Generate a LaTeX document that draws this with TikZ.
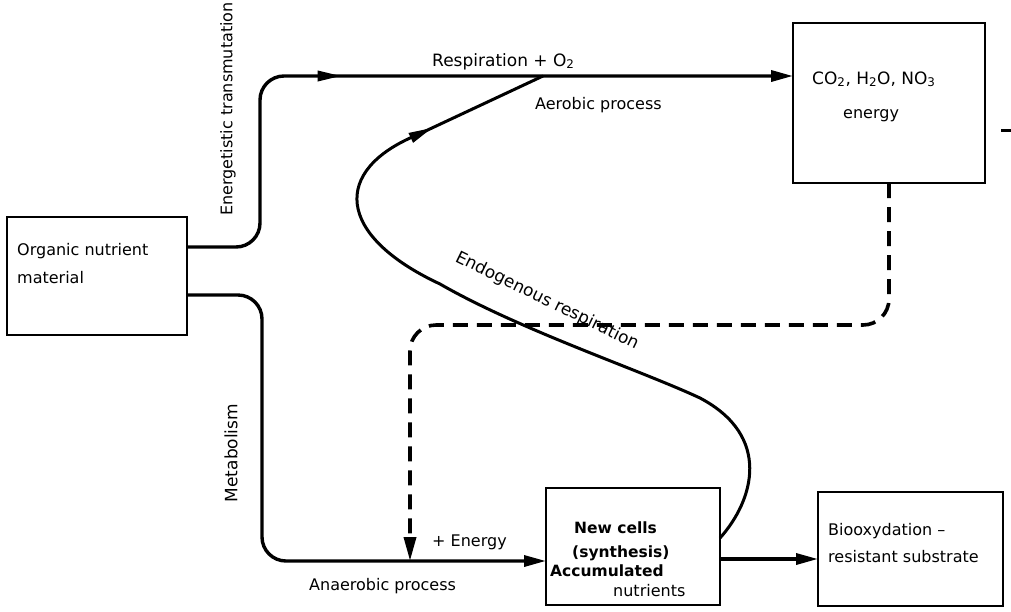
\documentclass[tikz,border=0pt]{standalone}
\usepackage{fontspec}
\setmainfont{DejaVu Sans}
\usetikzlibrary{arrows.meta,decorations.markings,calc}
\begin{document}
\begin{tikzpicture}[x=1pt,y=-1pt,
  box/.style={draw, line width=2.4pt, inner sep=0pt, outer sep=0pt},
  conn/.style={line width=3.4pt},
  tip/.style={-{Triangle[length=22pt,width=11pt]}},
  dash3/.style={line width=3.6pt, dash pattern=on 15pt off 9pt},
  txt/.style={inner sep=0pt, font=\fontsize{16}{19}\selectfont},
  btxt/.style={inner sep=0pt, font=\fontsize{15.5}{19}\selectfont\bfseries},
  midtip/.style={postaction={decorate}, decoration={markings, mark=at position #1 with {\arrow{Triangle[length=24pt,width=10pt]}}}}
]
\useasboundingbox (0,0) rectangle (1011,611);

% boxes
\node[box, minimum width=180pt, minimum height=118pt] (org) at (97,276) {};
\node[box, minimum width=192pt, minimum height=160pt] (top) at (889,103) {};
\node[box, minimum width=174pt, minimum height=117pt] (nc) at (633,546.5) {};
\node[box, minimum width=185pt, minimum height=114pt] (bio) at (910.5,549) {};

% helper coordinates
\coordinate (c1) at (260,76);
\coordinate (c2) at (262,561);
\coordinate (c3) at (410,325);
\coordinate (join) at (410,561);
\coordinate (resp) at (543,76);
\coordinate (cs) at ([yshift=-50pt]nc.north east);
\coordinate (s1) at (1001,130);
\coordinate (s2) at (1011,130);

% upper path
\draw[conn, tip, rounded corners=24pt, midtip=305pt]
  ([yshift=-30pt]org.north east) -| (c1) -- ([yshift=-53pt]top.north west);
% lower path
\draw[conn, tip, rounded corners=24pt]
  ([yshift=-78pt]org.north east) -| (c2) -- ([yshift=-73pt]nc.north west);
% to substrate
\draw[conn, tip] ([yshift=-71pt]nc.north east) -- ([yshift=-67pt]bio.north west);
% dashed return
\draw[dash3, rounded corners=26pt, -{Triangle[length=24pt,width=12pt]}]
  (top.south) |- (c3) -- (join);
% endogenous respiration curve
\draw[line width=3pt, midtip=-122pt]
  (cs) .. controls (754,500) and (772,436) .. (700,398)
       .. controls (640,370) and (520,330) .. (440,284)
       .. controls (335,235) and (332,170) .. (417,135)
       -- (resp);
% stub at right edge
\draw[line width=3pt] (s1) -- (s2);

% texts
\node[txt, anchor=base west, font=\fontsize{17}{20}\selectfont] (t1) at (432,66) {Respiration + O\textsubscript{2}};
\node[txt, anchor=base west] (t2) at (535,109) {Aerobic process};
\node[txt, rotate=90] (t3) at (228,109) {Energetistic transmutation};
\node[txt, rotate=90, font=\fontsize{17}{20}\selectfont] (t4) at (231,453) {Metabolism};
\node[txt, rotate=-26, font=\fontsize{17}{20}\selectfont] (t5) at (547,301) {Endogenous respiration};
\node[txt, anchor=base west] (t6) at (432,546) {+ Energy};
\node[txt, anchor=base west] (t7) at (309,590) {Anaerobic process};

\node[btxt, anchor=base west] (n1) at (574,533) {New cells};
\node[btxt, anchor=base west] (n2) at (572,557) {(synthesis)};
\node[btxt, anchor=base west] (n3) at (550,576) {Accumulated};
\node[txt, anchor=base west] (n4) at (613,596) {nutrients};

\node[txt, anchor=base west, font=\fontsize{17}{20}\selectfont] (p1) at (812,84) {CO\textsubscript{2}, H\textsubscript{2}O, NO\textsubscript{3}};
\node[txt, anchor=base west] (p2) at (843,118) {energy};

\node[txt, anchor=base west] (o1) at (17,255) {Organic nutrient};
\node[txt, anchor=base west] (o2) at (17,283) {material};

\node[txt, anchor=base west] (b1) at (828,535) {Biooxydation –};
\node[txt, anchor=base west] (b2) at (828,562) {resistant substrate};
\end{tikzpicture}
\end{document}
